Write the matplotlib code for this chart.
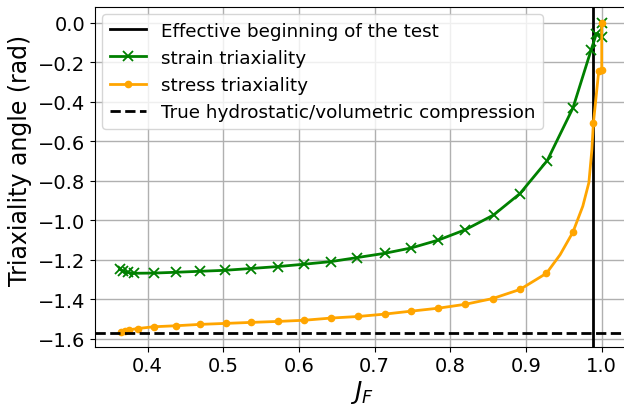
import numpy as np
import matplotlib
matplotlib.use("Agg")
import matplotlib.pyplot as plt

# strain triaxiality (green, x markers)
J_strain = [0.363, 0.367, 0.374, 0.382, 0.408, 0.437, 0.469, 0.502, 0.536, 0.572,
            0.607, 0.642, 0.676, 0.713, 0.748, 0.784, 0.820, 0.857, 0.892, 0.928,
            0.962, 0.986, 0.993, 1.000, 1.000]
strain_tri = [-1.249, -1.257, -1.265, -1.269, -1.268, -1.264, -1.259, -1.254, -1.245, -1.235,
              -1.223, -1.210, -1.190, -1.168, -1.141, -1.101, -1.048, -0.974, -0.865, -0.698,
              -0.431, -0.137, -0.055, -0.070, 0.000]

# stress triaxiality (orange, dot markers) -- includes unmarked intermediate points
J_stress = [0.365, 0.370, 0.375, 0.387, 0.408, 0.437, 0.469, 0.503, 0.536, 0.572,
            0.607, 0.642, 0.678, 0.713, 0.748, 0.784, 0.820, 0.856, 0.892, 0.927,
            0.945, 0.962, 0.975, 0.983, 0.987, 0.989, 0.996, 1.000, 1.000]
stress_tri = [-1.566, -1.561, -1.556, -1.549, -1.540, -1.535, -1.528, -1.523, -1.518, -1.513,
              -1.507, -1.496, -1.488, -1.476, -1.461, -1.446, -1.426, -1.397, -1.351, -1.269,
              -1.175, -1.060, -0.929, -0.810, -0.642, -0.507, -0.246, -0.240, 0.000]
stress_marked = [0, 1, 2, 3, 4, 5, 6, 7, 8, 9, 10, 11, 12, 13, 14, 15, 16, 17, 18, 19,
                 21, 25, 26, 27, 28]

J_begin = 0.988
hydro = -np.pi / 2

fig = plt.figure(figsize=(6.24, 4.10), dpi=100)
ax = fig.add_axes([95 / 624, 1 - 347.5 / 410, (628 - 95) / 624, (347.5 - 8) / 410])

ax.axvline(J_begin, color="black", lw=2, label="Effective beginning of the test")
ax.plot(J_strain, strain_tri, color="green", marker="x", ms=7, mew=1.3, lw=2,
        label="strain triaxiality")
ax.plot(J_stress, stress_tri, color="orange", marker="o", ms=4.5, lw=2,
        markevery=stress_marked, label="stress triaxiality")
ax.axhline(hydro, color="black", ls="--", lw=2,
           label="True hydrostatic/volumetric compression")

ax.set_xlim(0.3305, 1.0347)
ax.set_ylim(-1.64, 0.08)
ax.set_xticks([0.4, 0.5, 0.6, 0.7, 0.8, 0.9, 1.0])
ax.set_yticks(np.arange(-1.6, 0.01, 0.2))
ax.grid(True, color="#b0b0b0", lw=1)
ax.tick_params(labelsize=14)
ax.set_xlabel("$J_F$", fontsize=18, labelpad=2)
ax.set_ylabel("Triaxiality angle (rad)", fontsize=17, labelpad=4, y=0.55)
ax.legend(loc="upper left", fontsize=13.2, borderaxespad=0.4)

fig.savefig("out.png", dpi=100)
